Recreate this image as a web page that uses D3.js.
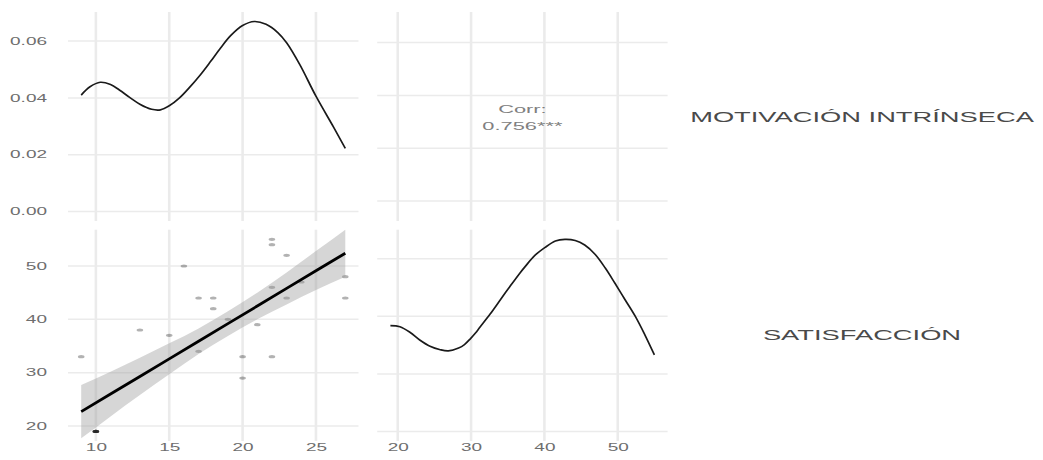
<!DOCTYPE html>
<html>
<head>
<meta charset="utf-8">
<script src="https://cdn.jsdelivr.net/npm/d3@7"></script>
<style>
  html, body { margin: 0; padding: 0; background: #fff; }
  svg { display: block; font-family: "Liberation Sans", Arial, sans-serif; }
</style>
</head>
<body>
<svg id="chart" width="1043" height="460"></svg>
<script>
// Variables shown in the pair plot
const varNames = ["MOTIVACIÓN INTRÍNSECA", "SATISFACCIÓN"];

// Observations (one entry per respondent)
const miVals  = [9, 10, 10, 10, 10, 10, 13, 15, 16, 17, 17, 18, 18, 19, 20, 20, 21, 22, 22, 22, 22, 23, 23, 24, 27, 27];
const satVals = [33, 19, 19, 19, 19, 19, 38, 37, 50, 44, 34, 44, 42, 40, 33, 29, 39, 55, 54, 46, 33, 52, 44, 47, 48, 44];

// Kernel density of MOTIVACIÓN INTRÍNSECA
const miDensX = [9.0, 9.6, 10.3, 11.0, 11.6, 12.3, 13.0, 13.8, 14.4, 15.0, 15.7, 16.4, 17.1, 17.8, 18.5, 19.2, 20.0, 20.8, 21.6, 22.4, 23.0, 23.9, 25.0, 26.2, 27.0];
const miDensY = [0.0410, 0.0439, 0.0455, 0.0447, 0.0428, 0.0402, 0.0378, 0.0360, 0.0358, 0.0372, 0.0400, 0.0438, 0.0480, 0.0527, 0.0576, 0.0620, 0.0655, 0.0669, 0.0659, 0.0630, 0.0594, 0.0517, 0.0406, 0.0297, 0.0222];

// Kernel density of SATISFACCIÓN
const satDensX = [19.0, 20.3, 21.7, 23.0, 24.4, 25.8, 26.9, 28.3, 29.1, 29.9, 30.6, 31.2, 32.6, 34.0, 35.3, 36.7, 37.4, 38.7, 40.1, 41.5, 42.8, 44.2, 45.5, 46.9, 48.3, 49.6, 51.0, 52.4, 53.7, 55.0];
const satDensY = [0.0184, 0.0182, 0.0172, 0.0159, 0.0148, 0.0142, 0.0140, 0.0145, 0.0151, 0.0161, 0.0171, 0.0181, 0.0204, 0.0229, 0.0252, 0.0276, 0.0287, 0.0306, 0.0320, 0.0331, 0.0334, 0.0332, 0.0324, 0.0308, 0.0284, 0.0258, 0.0229, 0.0200, 0.0168, 0.0133];

// Linear fit of SATISFACCIÓN on MOTIVACIÓN INTRÍNSECA with 95% band
const fitX     = [9, 11, 13, 15, 17, 19, 21, 23, 25, 27];
const fitY     = [22.7, 26.0, 29.3, 32.6, 35.9, 39.2, 42.5, 45.8, 49.1, 52.4];
const fitLower = [17.7, 21.8, 25.8, 29.7, 33.5, 36.9, 40.0, 42.8, 45.5, 48.0];
const fitUpper = [27.7, 30.2, 32.8, 35.5, 38.3, 41.5, 45.0, 48.8, 52.8, 56.8];

// Tick values
const miTicks      = [10, 15, 20, 25];
const satTicks     = [20, 30, 40, 50];
const miDensTicks  = [0, 0.02, 0.04, 0.06];
const satDensTicks = [0, 0.01, 0.02, 0.03];

const svg = d3.select("#chart");
const TXT_SX = 1.9;           // horizontal stretch applied to all text

// Panel boxes
const cols = [[68, 358.5], [377.2, 667.6]];
const rows = [[221, 12], [441, 229.7]];

const expand = ([a, b]) => [a - 0.05 * (b - a), b + 0.05 * (b - a)];

const xMI  = d3.scaleLinear().domain(expand(d3.extent(miVals))).range(cols[0]);
const xSAT = d3.scaleLinear().domain(expand(d3.extent(satVals))).range(cols[1]);
const yMI  = d3.scaleLinear().domain(expand(d3.extent(miVals))).range(rows[0]);
const ySAT = d3.scaleLinear().domain(expand(d3.extent(satVals))).range(rows[1]);
const miMax = d3.max(miDensY), satMax = d3.max(satDensY);
const yDenMI  = d3.scaleLinear().domain([-0.05 * miMax, 1.05 * miMax]).range(rows[0]);
const yDenSAT = d3.scaleLinear().domain([-0.05 * satMax, 1.05 * satMax]).range(rows[1]);

const defs = svg.append("defs");
const smooth = d3.curveCatmullRom.alpha(0.5);

function panel(id, x, y, xt, yt) {
  const [x0, x1] = x.range(), [yb, yt0] = y.range();
  defs.append("clipPath").attr("id", id)
    .append("rect").attr("x", x0).attr("y", yt0).attr("width", x1 - x0).attr("height", yb - yt0);
  const g = svg.append("g");
  g.selectAll("line.h").data(yt).join("line").attr("class", "h")
    .attr("x1", x0).attr("x2", x1).attr("y1", d => y(d)).attr("y2", d => y(d))
    .attr("stroke", "#ebebeb").attr("stroke-width", 1.5);
  g.selectAll("line.v").data(xt).join("line").attr("class", "v")
    .attr("x1", d => x(d)).attr("x2", d => x(d)).attr("y1", yt0).attr("y2", yb)
    .attr("stroke", "#ebebeb").attr("stroke-width", 2.6);
  return g.append("g").attr("clip-path", `url(#${id})`);
}

// Top-left: density of MOTIVACIÓN INTRÍNSECA
const p00 = panel("c00", xMI, yDenMI, miTicks, miDensTicks);
p00.append("path")
  .datum(d3.zip(miDensX, miDensY))
  .attr("fill", "none").attr("stroke", "#1a1a1a").attr("stroke-width", 1.7)
  .attr("d", d3.line().x(d => xMI(d[0])).y(d => yDenMI(d[1])).curve(smooth));

// Top-right: correlation
const p01 = panel("c01", xSAT, yMI, satTicks, miTicks);
const r = d3.sum(miVals, (v, i) => (v - d3.mean(miVals)) * (satVals[i] - d3.mean(satVals))) /
  Math.sqrt(d3.sum(miVals, v => (v - d3.mean(miVals)) ** 2) * d3.sum(satVals, v => (v - d3.mean(satVals)) ** 2));
const cx = (cols[1][0] + cols[1][1]) / 2;
const corrLines = ["Corr:", d3.format(".3f")(r) + "***"];
svg.append("g").selectAll("text").data(corrLines).join("text")
  .attr("transform", (d, i) => `translate(${cx},${[109, 125.5][i]}) scale(${TXT_SX},1)`)
  .attr("text-anchor", "middle").attr("dy", "0.35em")
  .attr("font-size", 11.5).attr("fill", "#808080")
  .text(d => d);

// Bottom-left: scatter with linear fit
const p10 = panel("c10", xMI, ySAT, miTicks, satTicks);
p10.selectAll("ellipse").data(d3.zip(miVals, satVals)).join("ellipse")
  .attr("cx", d => xMI(d[0])).attr("cy", d => ySAT(d[1]))
  .attr("rx", 3.3).attr("ry", 1.6)
  .attr("fill", "#000").attr("fill-opacity", 0.3);
const fitData = fitX.map((v, i) => ({ x: v, y: fitY[i], lo: fitLower[i], hi: fitUpper[i] }));
p10.append("path").datum(fitData)
  .attr("fill", "#999999").attr("fill-opacity", 0.4)
  .attr("d", d3.area().x(d => xMI(d.x)).y0(d => ySAT(d.lo)).y1(d => ySAT(d.hi)).curve(d3.curveMonotoneX));
p10.append("path").datum(fitData)
  .attr("fill", "none").attr("stroke", "#000").attr("stroke-width", 2.8)
  .attr("d", d3.line().x(d => xMI(d.x)).y(d => ySAT(d.y)));

// Bottom-right: density of SATISFACCIÓN
const p11 = panel("c11", xSAT, yDenSAT, satTicks, satDensTicks);
p11.append("path")
  .datum(d3.zip(satDensX, satDensY))
  .attr("fill", "none").attr("stroke", "#1a1a1a").attr("stroke-width", 1.7)
  .attr("d", d3.line().x(d => xSAT(d[0])).y(d => yDenSAT(d[1])).curve(smooth));

// Axes
function styleAxis(g, isLeft) {
  g.select(".domain").remove();
  g.selectAll(".tick line").remove();
  g.selectAll(".tick text")
    .attr("font-size", 10).attr("fill", "#6e6e6e").attr("font-family", null)
    .each(function () {
      const t = d3.select(this);
      if (isLeft) t.attr("x", -3 / TXT_SX);
      t.attr("transform", `scale(${TXT_SX},1)`);
    });
}
svg.append("g").attr("transform", "translate(50,0)")
  .call(d3.axisLeft(yDenMI).tickValues(miDensTicks).tickFormat(d3.format(".2f")).tickSize(0).tickPadding(3))
  .call(g => styleAxis(g, true));
svg.append("g").attr("transform", "translate(50,0)")
  .call(d3.axisLeft(ySAT).tickValues(satTicks).tickSize(0).tickPadding(3))
  .call(g => styleAxis(g, true));
svg.append("g").attr("transform", `translate(0,${rows[1][0] + 1})`)
  .call(d3.axisBottom(xMI).tickValues(miTicks).tickSize(0).tickPadding(1.5))
  .call(g => styleAxis(g, false));
svg.append("g").attr("transform", `translate(0,${rows[1][0] + 1})`)
  .call(d3.axisBottom(xSAT).tickValues(satTicks).tickSize(0).tickPadding(1.5))
  .call(g => styleAxis(g, false));

// Strip labels on the right
svg.append("g").selectAll("text").data(varNames).join("text")
  .attr("transform", (d, i) => `translate(862,${(rows[i][0] + rows[i][1]) / 2}) scale(1.95,1)`)
  .attr("text-anchor", "middle").attr("dy", "0.36em")
  .attr("font-size", 14).attr("fill", "#4a4a4a")
  .text(d => d);
</script>
</body>
</html>
